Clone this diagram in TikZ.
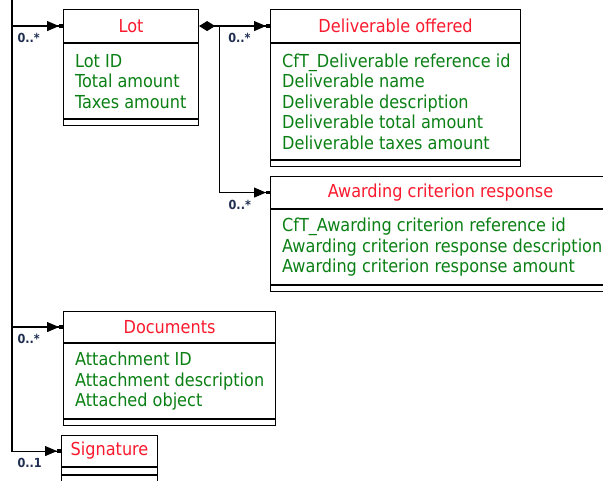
\documentclass[tikz,border=0pt]{standalone}
\usepackage{fontspec}
\setmainfont{DejaVu Sans Condensed}
\usetikzlibrary{arrows.meta}

\definecolor{headred}{RGB}{250,25,45}
\definecolor{attrgreen}{RGB}{10,128,20}
\definecolor{multblue}{RGB}{30,45,80}

\tikzset{
  classhead/.style={draw, line width=1.1pt, anchor=north west, inner sep=0pt,
    text=headred, font=\fontsize{17.9}{20.5}\selectfont},
  classbox/.style={draw, line width=1.1pt, anchor=north west, inner sep=0pt},
  attrtext/.style={anchor=west, inner sep=0pt, align=left, text=attrgreen,
    font=\fontsize{17.9}{20.5}\selectfont},
  assoc/.style={line width=1.1pt, -{Triangle[length=12pt,width=10pt]Rectangle[length=4pt,width=3.5pt]}},
  mult/.style={text=multblue, inner sep=1pt, anchor=north west, font=\bfseries\fontsize{12.5}{14}\selectfont}
}

\begin{document}
\begin{tikzpicture}[x=1pt, y=-1pt]
\useasboundingbox (0,0) rectangle (603,481);
% Lot
\node[classhead, minimum width=135pt, minimum height=33pt] (lot) at (63,9) {Lot};
\node[classbox, minimum width=135pt, minimum height=75pt] (lotattr) at (lot.south west) {};
\node[attrtext] (lottext) at ([xshift=12pt]lotattr.west) {Lot ID\\Total amount\\Taxes amount};
\node[classbox, minimum width=135pt, minimum height=6pt] (lotops) at (lotattr.south west) {};
% Deliverable offered
\node[classhead, minimum width=250pt, minimum height=33pt] (deliv) at (270,9) {Deliverable offered};
\node[classbox, minimum width=250pt, minimum height=116pt] (delivattr) at (deliv.south west) {};
\node[attrtext] (delivtext) at ([xshift=12pt]delivattr.west) {CfT\_Deliverable reference id\\Deliverable name\\Deliverable description\\Deliverable total amount\\Deliverable taxes amount};
\node[classbox, minimum width=250pt, minimum height=6pt] (delivops) at (delivattr.south west) {};
% Awarding criterion response
\node[classhead, minimum width=340pt, minimum height=32pt] (award) at (270,176) {Awarding criterion response};
\node[classbox, minimum width=340pt, minimum height=75pt] (awardattr) at (award.south west) {};
\node[attrtext] (awardtext) at ([xshift=12pt]awardattr.west) {CfT\_Awarding criterion reference id\\Awarding criterion response description\\Awarding criterion response amount};
\node[classbox, minimum width=340pt, minimum height=6pt] (awardops) at (awardattr.south west) {};
% Documents
\node[classhead, minimum width=212pt, minimum height=31pt] (docs) at (63,311) {Documents};
\node[classbox, minimum width=212pt, minimum height=75pt] (docsattr) at (docs.south west) {};
\node[attrtext] (docstext) at ([xshift=12pt]docsattr.west) {Attachment ID\\Attachment description\\Attached object};
\node[classbox, minimum width=212pt, minimum height=6pt] (docsops) at (docsattr.south west) {};
% Signature
\node[classhead, minimum width=96pt, minimum height=31pt] (sig) at (61,435) {Signature};
\node[classbox, minimum width=96pt, minimum height=7pt] (sigattr) at (sig.south west) {};
\node[classbox, minimum width=96pt, minimum height=10pt] (sigops) at (sigattr.south west) {};

% connectors
\coordinate (trunk) at (12,-5);
\coordinate (split) at ([xshift=20pt]lot.east);
\draw[assoc] (trunk) |- (sig.west) node[mult, pos=0.5, xshift=4pt, yshift=-6pt] {0..1};
\draw[assoc] (trunk |- lot.west) -- (lot.west) node[mult, pos=0, xshift=4pt, yshift=-6pt] {0..*};
\draw[assoc] (trunk |- docs.west) -- (docs.west) node[mult, pos=0, xshift=4pt, yshift=-6pt] {0..*};
\draw[assoc, {Diamond[length=16pt,width=10pt]}-{Triangle[length=12pt,width=10pt]Rectangle[length=4pt,width=3.5pt]}] (lot.east) -- (deliv.west);
\node[mult, xshift=8pt, yshift=-6pt] (delivmult) at (split) {0..*};
\draw[assoc] (split) |- (award.west) node[mult, pos=0.5, xshift=8pt, yshift=-6pt] {0..*};
\end{tikzpicture}
\end{document}
